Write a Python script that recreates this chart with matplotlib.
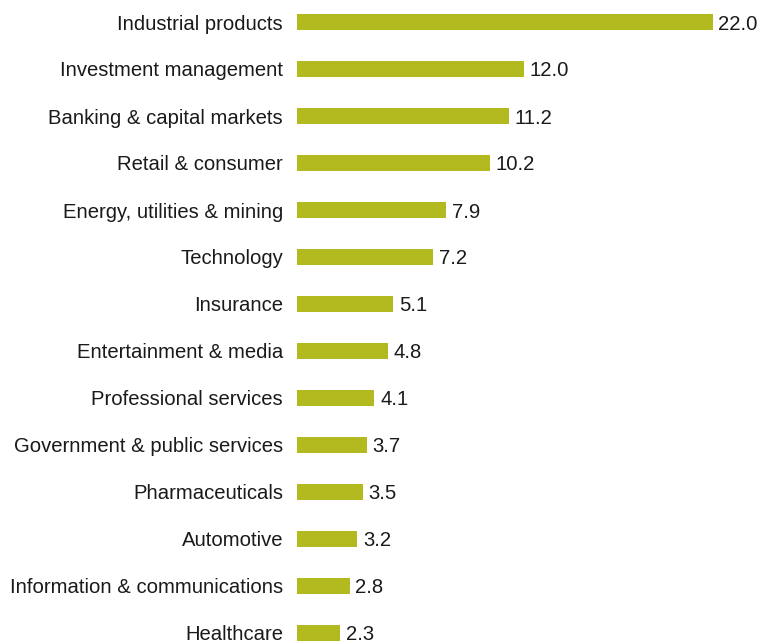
import matplotlib.pyplot as plt

categories = ['Industrial products', 'Investment management', 'Banking & capital markets',
              'Retail & consumer', 'Energy, utilities & mining', 'Technology', 'Insurance',
              'Entertainment & media', 'Professional services', 'Government & public services',
              'Pharmaceuticals', 'Automotive', 'Information & communications', 'Healthcare']
values = [22.0, 12.0, 11.2, 10.2, 7.9, 7.2, 5.1, 4.8, 4.1, 3.7, 3.5, 3.2, 2.8, 2.3]

plt.rcParams['font.family'] = ['Liberation Sans', 'DejaVu Sans']

W, H = 758, 642
fig = plt.figure(figsize=(W / 100, H / 100), dpi=100)
left_px, right_px = 297, 745
ax = fig.add_axes([left_px / W, 0, (right_px - left_px) / W, 1])

px_per_unit = 18.9
y = list(range(len(categories)))
bars = ax.barh(y, values, height=0.36, color='#b2ba1f')
ax.set_xlim(0, (right_px - left_px) / px_per_unit)
ax.set_ylim((H - 22) / 47.0, -22 / 47.0)

ax.set_yticks(y)
ax.set_yticklabels(categories, fontsize=14.6, color='#1a1a1a', va='center_baseline')
ax.tick_params(axis='y', length=0, pad=10)
ax.set_xticks([])
for s in ax.spines.values():
    s.set_visible(False)

# value labels just past the bar ends
for yi, v in zip(y, values):
    ax.annotate('%.1f' % v, (v, yi), xytext=(4, 0), textcoords='offset points',
                ha='left', va='center_baseline', fontsize=14.6, color='#1a1a1a')

fig.savefig('out.png', dpi=100)
